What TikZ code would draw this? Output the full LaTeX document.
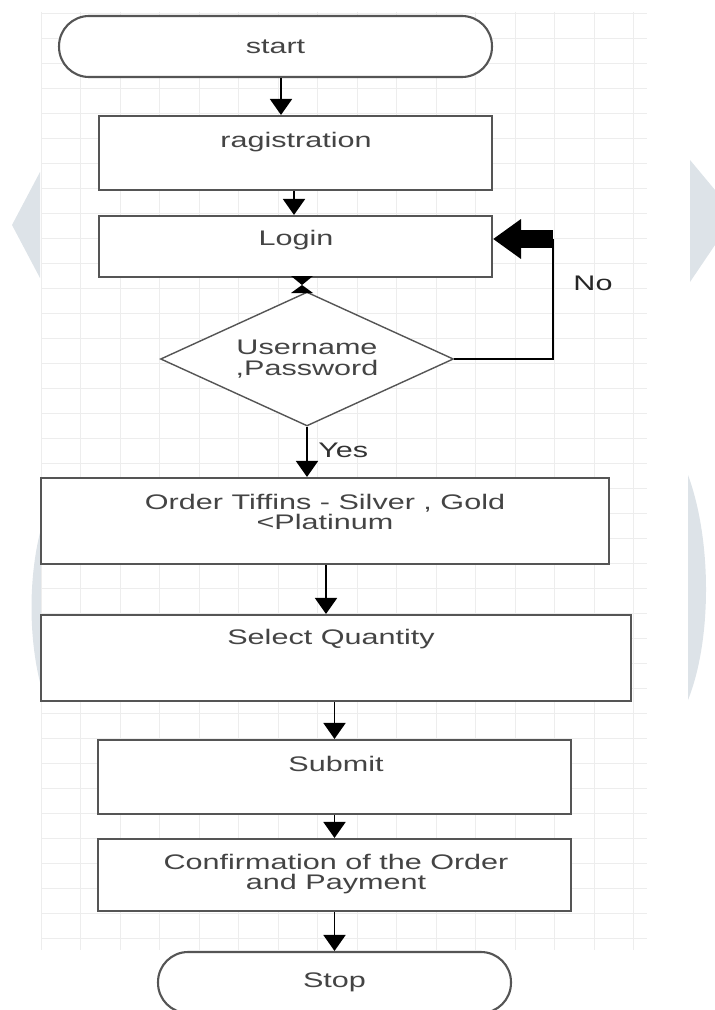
\documentclass[tikz,border=0pt]{standalone}
\usepackage{fontspec}
\setmainfont{Liberation Sans}[FakeStretch=1.45]
\usepackage{tikz}
\usetikzlibrary{
  arrows.meta,
  shapes.geometric
}

\definecolor{gridgray}{HTML}{EDEDED}
\definecolor{markgray}{HTML}{DDE3E8}
\definecolor{boxgray}{HTML}{555555}
\definecolor{textgray}{HTML}{444444}

\tikzset{
  box/.style={draw=boxgray, line width=1.2pt, fill=white, inner sep=0pt},
  term/.style={box, rounded corners=0.6cm, text=textgray,
    font=\fontsize{12}{12}\selectfont},
  decision/.style={diamond, aspect=2.2, draw=boxgray, line width=0.8pt, fill=white,
    inner sep=0pt, align=center, text=textgray,
    font=\fontsize{12}{11.8}\selectfont},
  txt/.style={text=textgray, align=center, inner sep=0pt,
    font=\fontsize{12}{11.5}\selectfont},
  arr/.style={draw=black, line width=1.1pt,
    -{Triangle[width=0.44cm,length=0.32cm]}},
  gridline/.style={draw=gridgray, line width=0.5pt}
}

\begin{document}
\begin{tikzpicture}[x=0.02cm, y=-0.02cm]
    \clip (0,0) rectangle (715,1010);

    % Faint marks behind the sheet
    \fill[markgray] (40,172) -- (12,225) -- (40,278) -- cycle;
    \fill[markgray] (690,160) -- (715,190) -- (715,245) -- (690,282) -- cycle;
    \fill[markgray] (42,525) .. controls (28,575) and (28,640) .. (42,690) -- cycle;
    \fill[markgray] (688,475) .. controls (712,540) and (712,640) .. (688,700) -- cycle;

    % Sheet with grid
    \fill[white] (41,0) rectangle (647,1010);
    \foreach \i in {0,...,15} {
        \draw[gridline] ({41+39.5*\i},12) -- ({41+39.5*\i},950);
    }
    \foreach \j in {0,...,37} {
        \draw[gridline] (41,{13+25*\j}) -- (647,{13+25*\j});
    }

    % Boxes
    \node[term, minimum width=8.66cm, minimum height=1.22cm] (start) at (275.5,46.5) {start};
    \node[box, minimum width=7.86cm, minimum height=1.48cm] (reg) at (295.5,153) {};
    \node[box, minimum width=7.86cm, minimum height=1.22cm] (login) at (295.5,246.5) {};
    \node[decision, minimum width=5.86cm, minimum height=2.68cm] (dia) at (307,359) {Username\\,Password};
    \node[box, minimum width=11.36cm, minimum height=1.72cm] (order) at (325,521) {};
    \node[box, minimum width=11.8cm, minimum height=1.72cm] (select) at (336,658) {};
    \node[box, minimum width=9.46cm, minimum height=1.48cm] (submit) at (334.5,777) {};
    \node[box, minimum width=9.46cm, minimum height=1.44cm] (confirm) at (334.5,875) {};
    \node[term, minimum width=7.06cm, minimum height=1.22cm] (stop) at (334.5,982.5) {Stop};

    % Box texts
    \node[txt] (regtxt) at (296,142) {ragistration};
    \node[txt] (logintxt) at (296,240) {Login};
    \node[txt] (ordertxt) at (325,512) {Order Tiffins - Silver , Gold\\<Platinum};
    \node[txt] (selecttxt) at (331,639) {Select Quantity};
    \node[txt] (submittxt) at (336,764) {Submit};
    \node[txt] (confirmtxt) at (336,874) {Confirmation of the Order\\and Payment};

    % Connectors
    \draw[arr] (start.south -| 281,0) -- (reg.north -| 281,0);
    \draw[arr] (reg.south -| 294,0) -- (login.north -| 294,0);

    % Double head between login and check
    \coordinate (hgmid) at (302,285);
    \fill (hgmid) -- ++(-11,-9) -- ++(22,0) -- cycle;
    \fill (hgmid) -- ++(-11,8) -- ++(22,0) -- cycle;

    % No loop back to login
    \coordinate (noturn) at (553,239);
    \draw[line width=0.8pt] (dia.east) -| (noturn);
    \draw[line width=0.36cm, -{Triangle[width=0.76cm,length=0.56cm]}] (noturn) -- (login.east |- noturn);
    \node[txt, text=black!85] (nolbl) at (593,283) {No};

    % Yes path
    \draw[arr] (dia.south) -- (dia.south |- order.north);
    \node[txt, anchor=west, text=black!80] (yeslbl) at (318,450) {Yes};

    \draw[arr] (order.south -| 326,0) -- (select.north -| 326,0);
    \draw[arr] (select.south -| submit.north) -- (submit.north);
    \draw[arr] (submit.south) -- (confirm.north);
    \draw[arr] (confirm.south) -- (stop.north);
\end{tikzpicture}
\end{document}
